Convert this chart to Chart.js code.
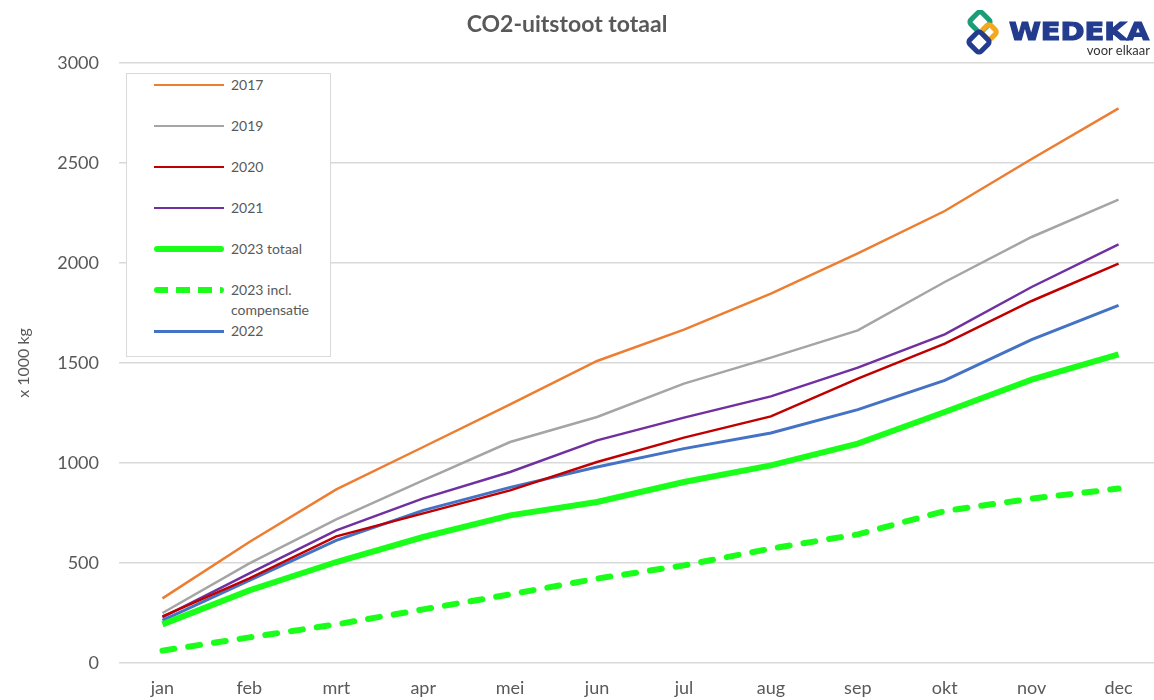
<!DOCTYPE html>
<html>
<head>
<meta charset="utf-8">
<script src="https://cdn.jsdelivr.net/npm/chart.js@4.4.1/dist/chart.umd.min.js"></script>
<style>
    body { margin: 0; background: #fff; overflow: hidden; width: 1154px; height: 700px; position: relative; }
    #wrap { position: absolute; left: 0; top: 0; width: 1162px; height: 700px; }
    #title {
        position: absolute; left: 0; width: 1134px; top: 9px; text-align: center;
        font: bold 23px Lato, sans-serif; color: #595959;
    }
    #legend {
        position: absolute; left: 126px; top: 73px; width: 205px; height: 284px;
        border: 1px solid #d9d9d9; background: #fff; box-sizing: border-box;
        font: 14px Lato, sans-serif; color: #595959;
    }
    .item { position: absolute; left: 27px; }
    .item .swatch { position: absolute; left: 0; width: 70px; }
    .item .txt { position: absolute; left: 77px; top: 0; line-height: 20px; white-space: nowrap; }
    #logo { position: absolute; left: 962px; top: 10px; }
</style>
</head>
<body>
<div id="wrap"><canvas id="co2Chart"></canvas></div>
<div id="title">CO2-uitstoot totaal</div>
<div id="legend"></div>
<svg id="logo" width="192" height="50" viewBox="0 0 192 50">
    <!-- rough version of the WEDEKA logo -->
    <rect x="10" y="4" width="16" height="16" rx="3" transform="rotate(45 18 12)" fill="none" stroke="#1a9e78" stroke-width="5"/>
    <rect x="21" y="16" width="12" height="12" rx="3" transform="rotate(45 27 22)" fill="none" stroke="#f4a81d" stroke-width="5"/>
    <rect x="9" y="24" width="16" height="16" rx="3" transform="rotate(45 17 32)" fill="none" stroke="#233c8e" stroke-width="5"/>
    <text x="47" y="30" font-family="DejaVu Sans, sans-serif" font-weight="900" font-size="25" fill="#233c8e" stroke="#233c8e" stroke-width="1.2" textLength="140" lengthAdjust="spacingAndGlyphs">WEDEKA</text>
    <text x="188" y="45" text-anchor="end" font-family="Lato, sans-serif" font-size="13" fill="#333">voor elkaar</text>
</svg>

<script>
Chart.defaults.color = '#595959';
Chart.defaults.font.family = "Lato, sans-serif";

const months = ['jan','feb','mrt','apr','mei','jun','jul','aug','sep','okt','nov','dec'];
const yTicks = [0, 500, 1000, 1500, 2000, 2500, 3000];

const co2_2017 = [323, 605, 868, 1080, 1293, 1510, 1667, 1847, 2048, 2260, 2520, 2773];
const co2_2019 = [250, 498, 718, 913, 1105, 1230, 1397, 1527, 1663, 1905, 2130, 2317];
const co2_2020 = [233, 423, 633, 748, 863, 1005, 1127, 1233, 1422, 1597, 1810, 1997];
const co2_2021 = [228, 448, 663, 823, 955, 1113, 1227, 1333, 1477, 1643, 1880, 2093];
const co2_2023 = [193, 363, 505, 630, 738, 805, 905, 988, 1097, 1255, 1417, 1543];
const co2_2023comp = [62, 128, 193, 268, 343, 422, 488, 572, 643, 760, 822, 872];
const co2_2022 = [213, 413, 613, 763, 878, 980, 1072, 1150, 1267, 1413, 1617, 1788];

function line(label, data, color, width, dash) {
    return {
        label: label,
        data: data,
        borderColor: color,
        backgroundColor: color,
        borderWidth: width,
        borderDash: dash || [],
        borderCapStyle: dash ? 'round' : 'butt',
        pointRadius: 0,
        tension: 0,
        fill: false
    };
}

const datasets = [
    line('2017', co2_2017, '#ed7d31', 2.5),
    line('2019', co2_2019, '#a5a5a5', 2.5),
    line('2020', co2_2020, '#c00000', 2.5),
    line('2021', co2_2021, '#7030a0', 2.5),
    line('2023 totaal', co2_2023, '#1aff1a', 6),
    line('2023 incl.\ncompensatie', co2_2023comp, '#1aff1a', 6, [12, 14]),
    line('2022', co2_2022, '#4472c4', 3)
];

const chart = new Chart(document.getElementById('co2Chart'), {
    type: 'line',
    data: { labels: months, datasets: datasets },
    options: {
        responsive: true,
        maintainAspectRatio: false,
        animation: false,
        layout: { padding: { left: 14, right: 0, top: 63, bottom: 0 } },
        plugins: { legend: { display: false }, tooltip: { enabled: false } },
        scales: {
            x: {
                offset: true,
                grid: { display: false },
                border: { display: false },
                ticks: { font: { size: 18 }, padding: 6 },
                afterFit: scale => { scale.height = 37; }
            },
            y: {
                min: 0,
                max: 3000,
                afterBuildTicks: scale => { scale.ticks = yTicks.map(v => ({ value: v })); },
                grid: { color: '#d9d9d9', lineWidth: 1.5, drawTicks: false },
                border: { display: false },
                ticks: { font: { size: 18 }, padding: 20, callback: v => String(v) },
                title: { display: true, text: 'x 1000 kg', font: { size: 16 }, padding: { top: 0, bottom: 0 } },
                afterFit: scale => { scale.width = 105; }
            }
        }
    }
});

// legend box, built from the datasets
const legendEl = document.getElementById('legend');
const rowTops = [1, 42, 83, 124, 165, 206, 247];
datasets.forEach((ds, i) => {
    const item = document.createElement('div');
    item.className = 'item';
    item.style.top = rowTops[i] + 'px';
    const sw = document.createElement('div');
    sw.className = 'swatch';
    sw.style.height = ds.borderWidth + 'px';
    sw.style.top = (10 - ds.borderWidth / 2) + 'px';
    if (ds.borderDash.length) {
        sw.style.backgroundImage = 'repeating-linear-gradient(90deg,' + ds.borderColor + ' 0 14px, transparent 14px 22px)';
        sw.style.borderRadius = '3px';
    } else {
        sw.style.background = ds.borderColor;
        sw.style.borderRadius = ds.borderWidth > 4 ? '3px' : '0';
    }
    const txt = document.createElement('div');
    txt.className = 'txt';
    txt.innerHTML = ds.label.replace('\n', '<br>');
    item.appendChild(sw);
    item.appendChild(txt);
    legendEl.appendChild(item);
});
</script>
</body>
</html>
